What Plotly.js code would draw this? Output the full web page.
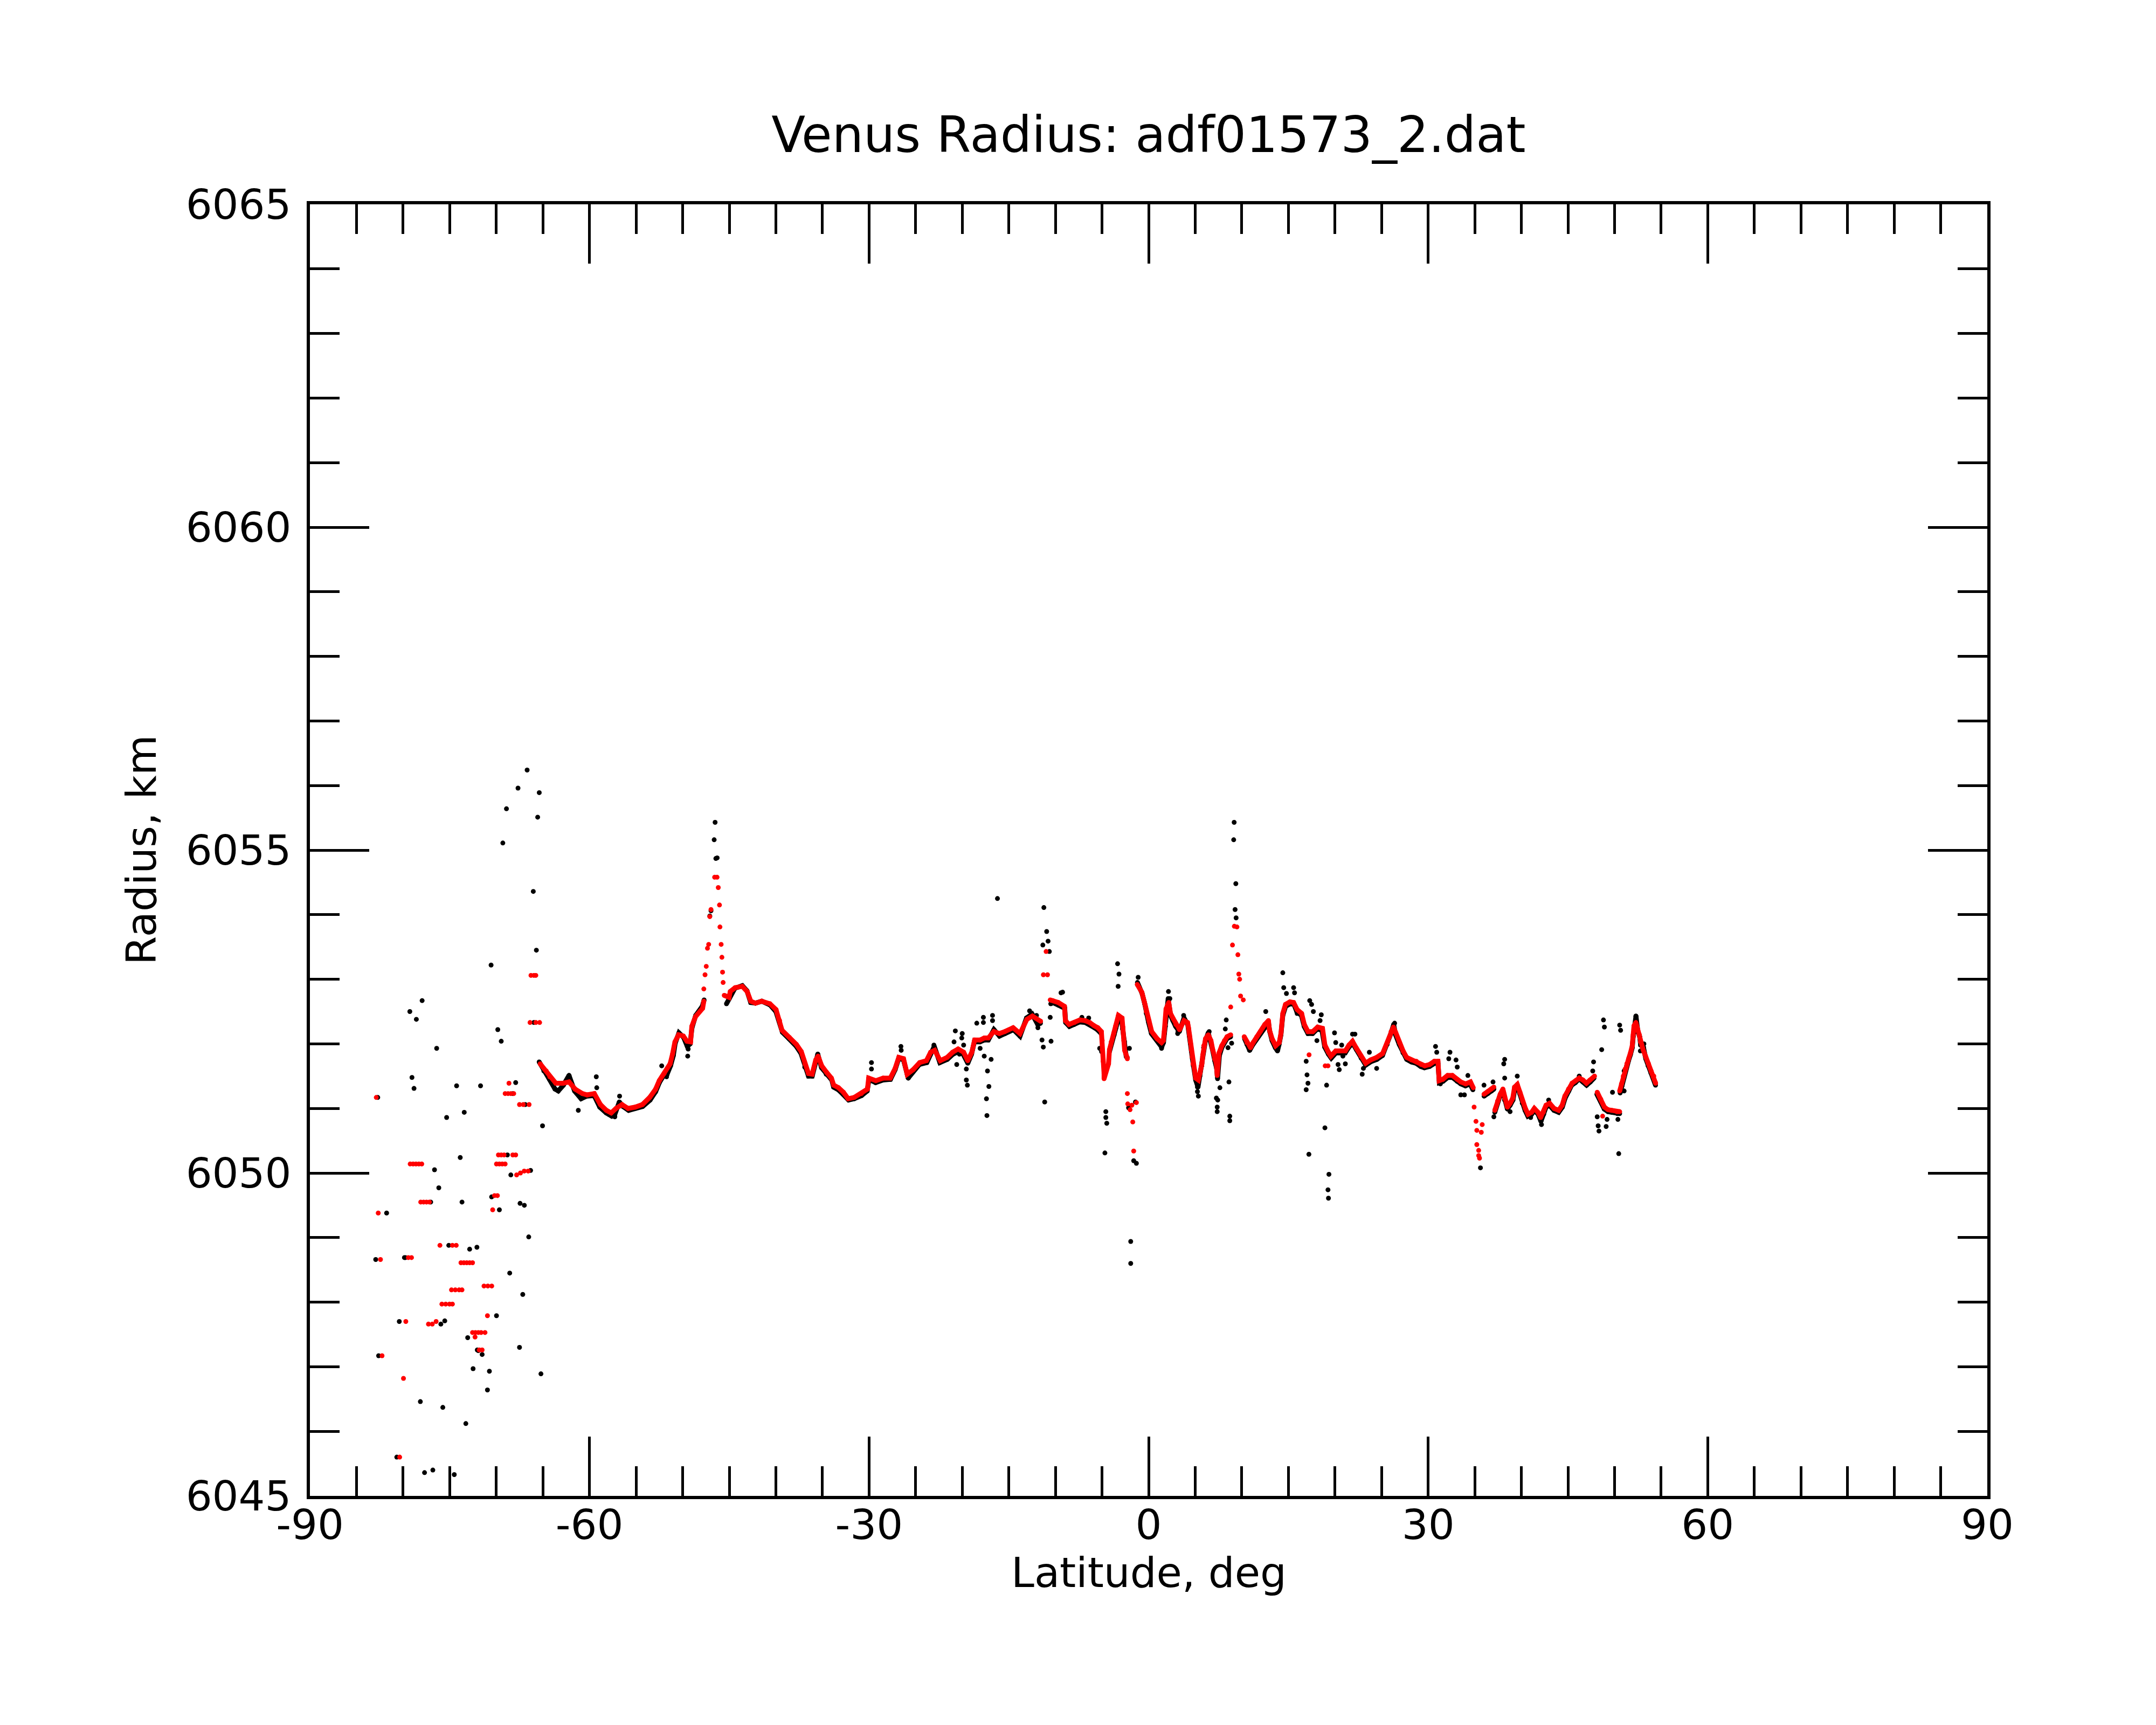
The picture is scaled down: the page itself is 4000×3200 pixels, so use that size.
<!DOCTYPE html>
<html>
<head>
<meta charset="utf-8">
<script src="https://cdn.plot.ly/plotly-3.0.1.min.js"></script>
<style>
  html, body { margin: 0; padding: 0; background: #fff; }
  #chart { width: 4000px; height: 3200px; }
</style>
</head>
<body>
<div id="chart"></div>
<script>
'use strict';

// axis ticks
var xTickVals = [-90, -60, -30, 0, 30, 60, 90];
var xTickText = ['-90', '-60', '-30', '0', '30', '60', '90'];
var yTickVals = [6045, 6050, 6055, 6060, 6065];
var yTickText = ['6045', '6050', '6055', '6060', '6065'];

// red (filtered) profile; null = gap in the trace
var redCurveLat = [
  -65.29,-64.64,-64.26,-63.61,-62.84,-62.19,-61.55,-60.77,-60.25,-59.48,
  -58.83,-58.19,-57.67,-57.16,-56.51,-55.86,-55.09,-54.32,-53.54,-52.90,
  -52.51,-51.99,-51.35,-51.09,-50.83,-50.44,-49.93,-49.54,-49.15,-49.02,
  -48.63,-47.86,-47.73, null,
  -45.54,-45.02,-44.89,-44.37,-43.60,-43.08,-42.69,-42.18,-41.53,-40.63,
  -39.98,-39.60,-39.34,-38.56,-37.79,-37.27,-36.89,-36.50,-36.11,-35.72,
  -35.47,-35.08,-34.56,-34.04,-33.79,-33.27,-32.75,-32.24,-31.59,-30.82,
  -30.17,-30.04,-29.27,-28.49,-27.72,-27.20,-26.81,-26.30,-25.91,-25.27,
  -24.57,-23.84,-23.39,-22.95,-22.36,-21.62,-21.03,-20.44,-19.85,-19.41,
  -18.97,-18.67,-18.08,-17.64,-17.20,-16.61,-16.02,-15.43,-14.54,-13.80,
  -13.06,-12.47,-11.59, null,
  -10.56,-10.28,-9.70,-9.03,-8.93,-8.54,-7.96,-7.38,-6.81,-6.32,
  -5.84,-5.46,-5.07,-4.98,-4.98,-4.88,-4.78,-4.78,-4.30,-4.20,
  -4.01,-3.72,-3.53,-3.24,-2.85,-2.76,-2.66,-2.57,-2.28, null,
  -1.22,-0.73,-0.44,-0.25,0.04,0.33,0.91,1.39,1.58,1.68,
  1.77,1.87,2.16,2.35,2.64,2.93,3.32,3.80,4.18,4.28,
  4.38,4.47,4.57,4.67,4.76,4.95,5.05,5.34,5.53,5.72,
  5.82,5.92,6.11,6.40,6.69,6.88,7.08,7.27,7.36,7.56,
  7.85,8.14,8.42,8.81, null,
  10.26,10.55,10.93,11.22,11.61,11.99,12.47,12.86,12.96,13.25,
  13.63,14.02,14.21,14.40,14.69,15.17,15.56,15.94,16.42,16.71,
  17.10,17.62,18.14,18.66,18.92,19.30,19.56,20.08,20.59,21.11,
  21.50,21.88,22.27,22.79,23.30,23.82,24.47,25.11,25.63,26.02,
  26.27,26.53,26.92,27.31,27.69,28.21,28.73,29.24,29.63,30.15,
  30.66,31.05,31.18,31.57,32.08,32.60,33.12,33.50,34.02,34.54,
  34.84, null,
  35.99,36.38,36.76,37.05, null,
  37.15,37.44,37.73,38.02,38.21,38.50,38.79,39.08,39.27,39.56,
  39.85,40.14,40.43,40.72,41.10,41.39,41.78,42.07,42.36,42.65,
  43.03,43.51,44.00,44.38,44.67,45.06,45.44,45.83,46.21,46.60,
  46.98,47.37,47.85, null,
  48.14,48.53,48.91,49.30,49.68,50.26,50.55, null,
  50.55,50.74,50.94,51.13,51.32,51.51,51.71,51.90,52.00,52.09,
  52.29,52.48,52.67,52.77,53.06,53.35,53.64,53.92,54.21,54.41
];
var redCurveR = [
  6051.69,6051.58,6051.49,6051.39,6051.39,6051.41,6051.30,6051.23,6051.21,6051.23,
  6051.06,6050.97,6050.93,6051.00,6051.06,6051.00,6051.02,6051.06,6051.17,6051.30,
  6051.43,6051.54,6051.69,6051.84,6052.03,6052.14,6052.12,6052.04,6052.03,6052.27,
  6052.42,6052.55,6052.66, null,
  6052.75,6052.72,6052.81,6052.87,6052.89,6052.81,6052.66,6052.63,6052.66,6052.62,
  6052.53,6052.36,6052.21,6052.10,6051.99,6051.88,6051.69,6051.54,6051.53,6051.75,
  6051.81,6051.66,6051.56,6051.47,6051.36,6051.32,6051.25,6051.15,6051.17,6051.23,
  6051.30,6051.47,6051.43,6051.47,6051.47,6051.62,6051.79,6051.77,6051.53,6051.60,
  6051.71,6051.74,6051.87,6051.90,6051.74,6051.79,6051.87,6051.92,6051.87,6051.74,
  6051.87,6052.06,6052.06,6052.09,6052.09,6052.19,6052.16,6052.19,6052.25,6052.16,
  6052.38,6052.43,6052.35, null,
  6052.68,6052.67,6052.64,6052.58,6052.36,6052.30,6052.33,6052.37,6052.36,6052.33,
  6052.28,6052.25,6052.19,6052.05,6051.91,6051.73,6051.54,6051.46,6051.69,6051.91,
  6052.03,6052.17,6052.28,6052.44,6052.40,6052.26,6052.05,6051.90,6051.77, null,
  6052.92,6052.80,6052.64,6052.50,6052.36,6052.19,6052.08,6052.02,6052.05,6052.19,
  6052.30,6052.54,6052.64,6052.47,6052.39,6052.30,6052.22,6052.36,6052.33,6052.25,
  6052.14,6052.03,6051.91,6051.80,6051.69,6051.58,6051.47,6051.44,6051.55,6051.69,
  6051.83,6051.97,6052.08,6052.14,6052.05,6051.91,6051.77,6051.69,6051.51,6051.86,
  6051.97,6052.05,6052.11,6052.14, null,
  6052.11,6052.02,6051.94,6052.02,6052.11,6052.19,6052.30,6052.36,6052.22,6052.08,
  6051.97,6052.02,6052.17,6052.47,6052.61,6052.65,6052.64,6052.53,6052.47,6052.30,
  6052.19,6052.19,6052.26,6052.24,6051.98,6051.87,6051.81,6051.89,6051.89,6051.89,
  6051.98,6052.04,6051.94,6051.81,6051.70,6051.75,6051.79,6051.85,6052.02,6052.19,
  6052.26,6052.17,6052.02,6051.89,6051.79,6051.75,6051.73,6051.68,6051.66,6051.68,
  6051.73,6051.73,6051.43,6051.45,6051.51,6051.51,6051.45,6051.41,6051.38,6051.41,
  6051.32, null,
  6051.22,6051.26,6051.30,6051.33, null,
  6050.97,6051.11,6051.22,6051.30,6051.16,6051.02,6051.08,6051.16,6051.33,6051.37,
  6051.25,6051.11,6051.00,6050.91,6050.94,6051.00,6050.94,6050.86,6050.94,6051.05,
  6051.08,6051.00,6050.97,6051.05,6051.19,6051.30,6051.39,6051.43,6051.47,6051.44,
  6051.39,6051.44,6051.50, null,
  6051.25,6051.14,6051.02,6050.98,6050.97,6050.95,6050.95, null,
  6051.27,6051.38,6051.50,6051.61,6051.69,6051.77,6051.86,6051.97,6052.14,6052.28,
  6052.33,6052.22,6052.14,6052.03,6051.91,6051.80,6051.69,6051.58,6051.50,6051.39
];

// red isolated points (southern scatter, spikes and dips)
var redDotLat = [
  -82.88,-82.67,-82.43,-82.26,-79.96,-79.71,-79.44,-79.10,-80.37,
  -79.24,-78.93,-78.62,-78.31,-78.00,
  -78.11,-77.80,-77.49,-77.18,
  -77.28,-76.87,-76.46,
  -76.05,-74.71,-74.30,
  -75.84,-75.43,-75.02,-74.71,
  -74.81,-74.40,-73.99,-73.68,
  -73.79,-73.48,-73.17,-72.86,-72.55,
  -72.55,-72.24,-71.93,-71.63,-71.21,-72.28,
  -71.83,-71.52,
  -71.32,-70.91,-70.49,
  -70.95,-70.39,-70.19,-69.88,
  -69.98,-69.67,-69.36,-69.05,
  -69.77,-69.47,-69.16,-68.23,-67.92,
  -67.82,-67.41,-67.00,-66.58,
  -68.64,
  -69.05,-68.74,-68.44,-68.13,
  -67.51,-67.10,-66.48,
  -66.38,-65.76,-65.35,
  -66.28,-65.97,-65.76,
  -47.73,-47.60,-47.47,-47.34,-47.21,-47.09,-46.96,-46.57,-46.31,-46.18,-46.05,-46.00,-45.87,-45.79,-45.72,-45.66,
  -11.29,-10.85,-11.00,
  -2.28,-2.24,-1.99,-1.31,-1.70,-1.60,-1.80,
  8.81,9.00,9.20,9.48,9.58,9.68,9.77,9.87,10.16,
  34.93,35.13,35.22,35.22,35.42,35.51,35.70,35.80,35.42,
  17.22,18.95,19.25,48.72
];
var redDotR = [
  6051.17,6049.38,6048.66,6047.17,6046.82,6047.70,6048.69,6048.69,6045.60,
  6050.14,6050.14,6050.14,6050.14,6050.14,
  6049.55,6049.55,6049.55,6049.55,
  6047.66,6047.66,6047.70,
  6048.88,6048.88,6048.88,
  6047.97,6047.97,6047.97,6047.97,
  6048.19,6048.19,6048.19,6048.19,
  6048.61,6048.61,6048.61,6048.61,6048.61,
  6047.53,6047.53,6047.53,6047.53,6047.53,6047.46,
  6047.26,6047.26,
  6048.25,6048.25,6048.25,
  6047.79,6049.43,6049.65,6049.65,
  6050.14,6050.14,6050.14,6050.14,
  6050.28,6050.28,6050.28,6050.28,6050.28,
  6049.97,6050.00,6050.03,6050.03,
  6051.39,
  6051.23,6051.23,6051.23,6051.23,
  6051.06,6051.06,6051.06,
  6052.33,6052.33,6052.33,
  6053.06,6053.06,6053.06,
  6052.85,6053.07,6053.20,6053.48,6053.54,6053.97,6054.08,6054.58,6054.58,6054.42,6054.15,6053.81,6053.54,6053.34,6053.11,6052.95,
  6053.07,6053.07,6053.43,
  6051.23,6051.07,6050.98,6051.09,6050.79,6050.34,6051.05,
  6052.57,6053.53,6053.82,6053.81,6053.38,6053.08,6053.00,6052.74,6052.68,
  6051.02,6050.80,6050.66,6050.44,6050.27,6050.23,6050.63,6050.75,6050.35,
  6051.83,6051.66,6051.66,6050.88
];

// black (raw) profile, mostly under the red one
var blackCurveLat = [
  -65.40,-64.90,-64.30,-63.70,-63.35,-62.80,-62.20,-61.60,-60.90,-60.30,
  -59.50,-58.90,-58.20,-57.60,-57.30,-56.80,-56.40,-55.80,-55.10,-54.30,
  -53.50,-52.90,-52.50,-52.00,-51.70,-51.30,-51.00,-50.80,-50.40,-49.90,
  -49.50,-49.20,-49.00,-48.60,-47.90,-47.70, null,
  -45.30,-45.00,-44.40,-43.60,-43.10,-42.70,-42.20,-41.50,-40.60,-40.00,
  -39.60,-39.30,-38.60,-37.80,-37.30,-36.90,-36.50,-36.10,-35.50,-35.10,
  -34.60,-34.00,-33.80,-33.30,-32.80,-32.20,-31.60,-30.80,-30.20,-30.00,
  -29.30,-28.50,-27.70,-27.20,-26.80,-26.30,-25.80,-25.30,-24.60,-23.80,
  -23.40,-23.00,-22.40,-21.60,-21.00,-20.40,-19.90,-19.40,-19.00,-18.70,
  -18.10,-17.60,-17.20,-16.60,-16.00,-15.40,-14.50,-13.80,-13.10,-12.50,
  -11.90,-11.60, null,
  -10.50,-10.30,-9.70,-9.00,-8.90,-8.50,-8.00,-7.40,-6.80,-6.30,
  -5.80,-5.50,-5.10, null,
  -4.20,-4.00,-3.70,-3.50,-3.20,-2.90,-2.80,-2.60,-2.40, null,
  -1.20,-0.70,-0.40,-0.25,0.00,0.30,0.90,1.40,1.60,1.70,
  1.80,1.90,2.10,2.35,2.60,2.90,3.30,3.80,4.20,4.30,
  4.40,4.50,4.60,4.70,4.80,4.95,5.05,5.30,5.50,5.70,
  5.80,5.90,6.10,6.40,6.70,6.90,7.10,7.30,7.40,7.60,
  7.85,8.10,8.40,8.80, null,
  10.30,10.55,10.85,11.20,11.60,12.00,12.50,12.86,13.00,13.25,
  13.60,13.83,14.00,14.20,14.40,14.70,15.20,15.60,15.90,16.40,
  16.70,17.10,17.60,18.10,18.60,18.90,19.30,19.60,20.10,20.60,
  21.10,21.50,21.90,22.30,22.80,23.30,23.80,24.50,25.10,25.60,
  26.00,26.30,26.50,26.90,27.30,27.70,28.20,28.70,29.20,29.60,
  30.15,30.70,31.05,31.20,31.60,32.10,32.60,33.10,33.50,34.00,
  34.50,34.80, null,
  36.00,36.40,36.80,37.05, null,
  37.15,37.45,37.70,38.00,38.20,38.50,38.80,39.10,39.30,39.60,
  39.85,40.10,40.40,40.70,41.10,41.40,41.80,42.10,42.40,42.65,
  43.00,43.50,44.00,44.40,44.70,45.10,45.40,45.80,46.20,46.60,
  47.00,47.40,47.80, null,
  48.10,48.50,48.90,49.30,49.70,50.30,50.55, null,
  50.60,50.80,51.00,51.10,51.30,51.50,51.70,51.90,52.00,52.10,
  52.30,52.50,52.70,52.80,53.10,53.35,53.60,53.90,54.10,54.40
];
var blackCurveR = [
  6051.72,6051.58,6051.45,6051.30,6051.27,6051.36,6051.51,6051.27,6051.15,6051.19,
  6051.20,6051.02,6050.93,6050.88,6050.90,6051.10,6051.03,6050.97,6051.00,6051.03,
  6051.13,6051.26,6051.40,6051.52,6051.52,6051.66,6051.82,6052.01,6052.17,6052.10,
  6051.96,6052.00,6052.25,6052.44,6052.58,6052.68, null,
  6052.62,6052.70,6052.86,6052.90,6052.82,6052.64,6052.63,6052.66,6052.60,6052.50,
  6052.33,6052.18,6052.08,6051.96,6051.85,6051.64,6051.50,6051.50,6051.84,6051.63,
  6051.53,6051.44,6051.33,6051.29,6051.22,6051.13,6051.15,6051.20,6051.27,6051.45,
  6051.40,6051.44,6051.45,6051.60,6051.78,6051.75,6051.47,6051.57,6051.68,6051.71,
  6051.84,6051.96,6051.71,6051.76,6051.84,6051.88,6051.84,6051.70,6051.84,6052.03,
  6052.03,6052.06,6052.06,6052.22,6052.12,6052.16,6052.22,6052.12,6052.40,6052.46,
  6052.30,6052.32, null,
  6052.62,6052.64,6052.60,6052.55,6052.33,6052.27,6052.30,6052.34,6052.33,6052.30,
  6052.25,6052.22,6052.16, null,
  6051.88,6052.00,6052.14,6052.25,6052.41,6052.37,6052.23,6052.02,6051.80, null,
  6052.95,6052.78,6052.61,6052.47,6052.33,6052.16,6052.05,6051.95,6052.02,6052.16,
  6052.27,6052.52,6052.70,6052.44,6052.36,6052.27,6052.19,6052.40,6052.30,6052.22,
  6052.11,6052.00,6051.88,6051.77,6051.66,6051.55,6051.44,6051.33,6051.50,6051.66,
  6051.80,6051.94,6052.05,6052.17,6052.02,6051.88,6051.74,6051.62,6051.46,6051.82,
  6051.94,6052.02,6052.08,6052.11, null,
  6052.08,6051.99,6051.90,6051.99,6052.08,6052.16,6052.27,6052.33,6052.19,6052.05,
  6051.94,6051.89,6051.99,6052.14,6052.44,6052.58,6052.62,6052.61,6052.50,6052.44,
  6052.27,6052.16,6052.16,6052.23,6052.21,6051.95,6051.84,6051.78,6051.86,6051.86,
  6051.86,6051.95,6052.01,6051.91,6051.78,6051.67,6051.72,6051.76,6051.82,6051.99,
  6052.16,6052.30,6052.14,6051.99,6051.86,6051.76,6051.72,6051.70,6051.65,6051.63,
  6051.65,6051.70,6051.70,6051.40,6051.42,6051.48,6051.48,6051.42,6051.38,6051.35,
  6051.38,6051.29, null,
  6051.19,6051.23,6051.27,6051.30, null,
  6050.94,6051.08,6051.19,6051.27,6051.13,6050.99,6051.05,6051.13,6051.30,6051.34,
  6051.22,6051.08,6050.97,6050.88,6050.91,6050.97,6050.91,6050.80,6050.91,6051.02,
  6051.05,6050.97,6050.94,6051.02,6051.16,6051.27,6051.36,6051.40,6051.46,6051.41,
  6051.36,6051.41,6051.47, null,
  6051.22,6051.11,6050.99,6050.95,6050.94,6050.92,6050.92, null,
  6051.24,6051.35,6051.47,6051.58,6051.66,6051.74,6051.83,6051.94,6052.11,6052.25,
  6052.43,6052.19,6052.11,6051.98,6051.95,6051.77,6051.66,6051.55,6051.50,6051.36
];

// black isolated points
var blackDotLat = [
  -66.69,-67.67,-65.39,-68.91,-65.56,-69.30,-66.03,-65.70,-70.56,-77.96,
  -79.28,-78.58,-69.84,-69.47,-76.40,-79.05,-78.83,-74.26,-71.69,-67.92,
  -82.72,-75.33,-73.44,-65.04,-66.90,-73.87,-76.63,-68.44,-66.32,-76.17,
  -81.77,-73.68,-69.67,-66.99,-67.45,-66.52,-82.94,-79.86,-75.10,-72.86,
  -72.08,-68.56,-67.16,-80.41,-75.95,-75.53,-69.98,-73.07,-71.93,-71.52,
  -67.51,-82.63,-72.49,-70.74,-65.21,-70.95,-78.15,-75.74,-73.27,-80.68,
  -77.70,-76.81,-74.51,-61.20,-70.50,-65.97,-68.81,-77.04,-79.75,-72.04,
  -68.23,-46.52,-46.62,-46.44,-46.30,-47.09,-46.96,-49.41,-49.46,-52.25,
  -51.73,-59.27,-59.22,-56.77,-57.93,-57.28,-63.35,-62.19,-35.50,-25.78,
  -16.22,-11.24,-10.94,-10.79,-11.35,-10.65,-9.23,-10.56,-11.44,-11.30,
  -10.47,-11.15,-16.75,-16.75,-17.73,-17.73,-18.44,-18.08,-17.64,-16.90,
  -17.29,-17.14,-17.40,-17.35,-19.56,-19.56,-19.45,-20.59,-20.74,-20.00,
  -20.05,-20.88,-19.85,-20.30,-23.04,-26.58,-26.55,-29.74,-29.74,-12.77,
  -12.03,-11.88,-7.16,-6.43,-5.25,-5.05,-3.33,-3.18,-3.27,-2.59,
  -2.29,-2.06,-2.15,-1.41,-1.12,-1.92,-1.92,-4.59,-4.59,-4.49,
  -4.69,-1.60,-1.31,-9.40,2.13,2.28,3.16,3.76,9.39,1.39,
  3.12,6.50,12.57,10.83,14.40,14.50,14.79,15.56,15.66,17.29,
  17.49,17.68,15.94,18.06,16.91,17.00,17.10,16.91,17.20,8.33,
  8.23,8.91,8.52,8.62,8.71,8.71,7.65,7.27,7.36,7.36,
  5.24,5.24,5.34,9.18,9.13,9.36,9.28,18.53,18.40,7.42,
  18.92,19.35,19.25,19.30,19.10,19.95,20.08,20.72,20.85,20.33,
  20.46,21.11,21.88,22.14,22.92,23.05,23.69,24.47,26.40,30.79,
  30.92,32.34,32.21,32.99,33.12,33.89,31.31,33.50,34.26,35.61,
  35.99,36.96,37.05,38.21,38.11,38.21,38.79,39.56,41.00,42.16,
  42.93,46.21,47.75,47.66,48.81,48.91,48.62,50.55,50.65,48.14,
  48.24,48.33,49.10,49.20,50.36,49.78,50.45,52.29,52.77,51.03,
  51.03,53.15
];
var blackDotR = [
  6056.24,6055.96,6055.89,6055.64,6055.51,6055.11,6054.36,6053.45,6053.22,6052.67,
  6052.50,6052.38,6052.22,6052.04,6051.93,6051.48,6051.31,6051.35,6051.35,6051.40,
  6051.17,6050.86,6050.94,6050.73,6051.06,6050.24,6050.05,6049.97,6050.04,6049.77,
  6049.38,6049.55,6049.43,6049.50,6049.53,6049.01,6048.66,6048.69,6048.88,6048.82,
  6048.85,6048.45,6048.12,6047.70,6047.66,6047.71,6047.79,6047.45,6047.25,6047.19,
  6047.30,6047.17,6046.97,6046.93,6046.89,6046.64,6046.46,6046.37,6046.12,6045.60,
  6045.36,6045.40,6045.33,6050.97,6049.63,6052.33,6050.28,6049.55,6048.69,6047.26,
  6051.23,6055.43,6055.16,6054.87,6054.88,6053.98,6054.06,6051.92,6051.81,6051.66,
  6051.49,6051.49,6051.32,6051.19,6050.91,6050.87,6051.27,6051.51,6051.84,6051.47,
  6054.25,6054.11,6053.74,6053.59,6053.53,6053.43,6052.80,6052.41,6052.06,6051.95,
  6052.04,6051.10,6052.44,6052.36,6052.41,6052.33,6052.32,6051.93,6051.81,6051.76,
  6051.58,6051.34,6051.15,6050.89,6051.61,6051.44,6051.36,6051.68,6052.20,6052.16,
  6052.09,6052.03,6051.98,6051.84,6051.98,6051.96,6051.90,6051.71,6051.61,6052.51,
  6052.44,6052.25,6052.41,6052.40,6051.93,6051.88,6053.24,6053.08,6052.89,6052.04,
  6051.79,6051.93,6051.01,6051.10,6053.03,6048.94,6048.60,6050.95,6050.86,6050.77,
  6050.31,6050.19,6050.15,6052.79,6052.81,6052.70,6052.19,6052.44,6053.95,6051.93,
  6052.16,6052.19,6052.50,6051.90,6053.10,6052.87,6052.78,6052.87,6052.79,6052.67,
  6052.61,6052.50,6052.47,6052.05,6051.73,6051.52,6051.39,6051.29,6050.29,6052.37,
  6052.23,6052.01,6051.94,6051.41,6050.88,6050.81,6051.32,6051.16,6051.02,6050.95,
  6051.33,6051.26,6051.19,6055.43,6055.16,6054.48,6054.08,6052.45,6052.36,6051.13,
  6050.70,6049.98,6049.74,6049.61,6051.36,6052.17,6052.02,6051.98,6051.81,6051.68,
  6051.60,6051.69,6052.15,6052.15,6051.53,6051.62,6051.87,6051.62,6052.32,6051.96,
  6051.87,6051.87,6051.77,6051.75,6051.64,6051.21,6051.38,6051.21,6051.51,6050.08,
  6051.36,6051.41,6050.87,6051.76,6051.69,6051.47,6050.95,6051.50,6050.86,6050.75,
  6051.13,6051.50,6051.72,6051.58,6052.37,6052.26,6051.91,6052.29,6052.21,6050.87,
  6050.73,6050.65,6050.72,6050.83,6050.83,6051.25,6050.30,6052.43,6051.89,6051.58,
  6051.27,6052.00
];

var FONT = 'DejaVu Sans, Liberation Sans, sans-serif';
var DOT = 9;

function curve(x, y, color) {
    return {
        x: x, y: y, type: 'scatter', mode: 'lines+markers',
        line: {color: color, width: DOT},
        marker: {color: color, size: DOT},
        connectgaps: false, hoverinfo: 'skip', showlegend: false
    };
}

function dots(x, y, color) {
    return {
        x: x, y: y, type: 'scatter', mode: 'markers',
        marker: {color: color, size: DOT},
        hoverinfo: 'skip', showlegend: false
    };
}

var data = [
    curve(blackCurveLat, blackCurveR, '#000000'),
    dots(blackDotLat, blackDotR, '#000000'),
    curve(redCurveLat, redCurveR, '#ff0000'),
    dots(redDotLat, redDotR, '#ff0000')
];

function axis(extra) {
    var a = {
        showgrid: false, zeroline: false,
        showline: true, linecolor: '#000', linewidth: 6,
        mirror: 'allticks', ticks: 'inside', ticklen: 110, tickwidth: 5, tickcolor: '#000',
        tickfont: {family: FONT, size: 77, color: '#000'},
        tickmode: 'array', fixedrange: true
    };
    for (var k in extra) a[k] = extra[k];
    return a;
}

var layout = {
    width: 4000, height: 3200,
    margin: {l: 575, r: 313, t: 379, b: 425, pad: 0},
    paper_bgcolor: '#fff', plot_bgcolor: '#fff',
    font: {family: FONT, color: '#000', size: 77},
    title: {
        text: 'Venus Radius: adf01573_2.dat',
        font: {family: FONT, size: 92, color: '#000'},
        x: 0.5, xref: 'paper', xanchor: 'center',
        y: 1 - 250 / 3200, yref: 'container', yanchor: 'middle'
    },
    xaxis: axis({
        range: [-90, 90], tickvals: xTickVals, ticktext: xTickText,
        ticklabelstandoff: -18,
        minor: {tickmode: 'linear', tick0: -90, dtick: 5, ticks: 'inside', ticklen: 55, tickwidth: 5, tickcolor: '#000'}
    }),
    yaxis: axis({
        range: [6045, 6065], tickvals: yTickVals, ticktext: yTickText,
        ticklabelstandoff: 13,
        minor: {tickmode: 'linear', tick0: 6045, dtick: 1, ticks: 'inside', ticklen: 55, tickwidth: 5, tickcolor: '#000'}
    }),
    // axis titles placed as annotations to sit where the reference has them
    annotations: [
        {text: 'Latitude, deg', xref: 'paper', yref: 'paper', x: 0.5, y: 0,
         xanchor: 'center', yanchor: 'middle', yshift: -142, showarrow: false,
         font: {family: FONT, size: 77, color: '#000'}},
        {text: 'Radius, km', xref: 'paper', yref: 'paper', x: 0, y: 0.5,
         xanchor: 'center', yanchor: 'middle', xshift: -313, textangle: -90, showarrow: false,
         font: {family: FONT, size: 77, color: '#000'}}
    ]
};

Plotly.newPlot('chart', data, layout, {staticPlot: true, displayModeBar: false});
</script>
</body>
</html>
